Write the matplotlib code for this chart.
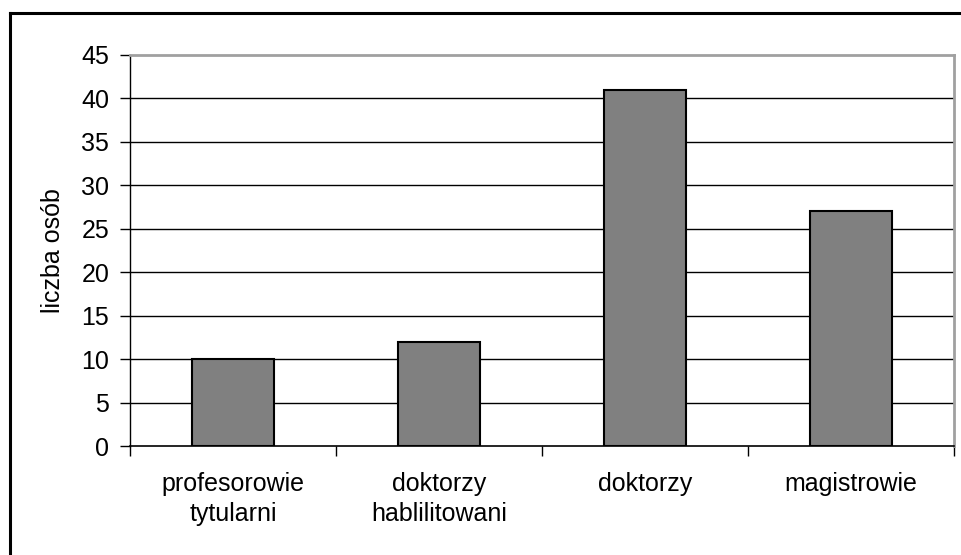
import matplotlib
matplotlib.use("Agg")
import matplotlib.pyplot as plt
from matplotlib.lines import Line2D
import numpy as np

categories = ["profesorowie\ntytularni", "doktorzy\nhablilitowani", "doktorzy", "magistrowie"]
counts = [10, 12, 41, 27]
yticks = list(range(0, 50, 5))

plt.rcParams["font.family"] = ["Liberation Sans", "DejaVu Sans"]
FS = 18

fig = plt.figure(figsize=(9.61, 5.55), dpi=100)
ax = fig.add_axes([130 / 961, 1 - 446 / 555, 824 / 961, 391 / 555])

x = np.arange(len(categories))
ax.bar(x, counts, width=0.4, color="#808080", edgecolor="black", linewidth=1.5, zorder=3)

ax.set_xlim(-0.5, len(categories) - 0.5)
ax.set_ylim(0, 45)
ax.set_yticks(yticks)
ax.tick_params(axis="y", direction="out", length=7, width=1, pad=8, labelsize=FS)

# labels under the bars, tick marks on the category boundaries
ax.set_xticks(x)
ax.set_xticklabels(categories, fontsize=FS, linespacing=1.3)
ax.tick_params(axis="x", which="major", length=0, pad=19)
ax.set_xticks(np.arange(-0.5, len(categories)), minor=True)
ax.tick_params(axis="x", which="minor", direction="out", length=7, width=1)

for v in yticks[1:-1]:
    ax.axhline(v, color="black", lw=1, zorder=1)

ax.spines["left"].set_color("black")
ax.spines["bottom"].set_color("black")
ax.spines["left"].set_linewidth(1)
ax.spines["bottom"].set_linewidth(1.2)
for side in ("top", "right"):
    ax.spines[side].set_color("#a0a0a0")
    ax.spines[side].set_linewidth(2)

fig.text(53 / 961, 1 - 251 / 555, "liczba osób", rotation=90,
         ha="center", va="center", fontsize=FS)

# outer frame: top and left edges
fig.add_artist(Line2D([10 / 961, 1], [1 - 13 / 555, 1 - 13 / 555], color="black", lw=2.2))
fig.add_artist(Line2D([10 / 961, 10 / 961], [0, 1 - 13 / 555], color="black", lw=2.2))

fig.savefig("out.png", dpi=100)
